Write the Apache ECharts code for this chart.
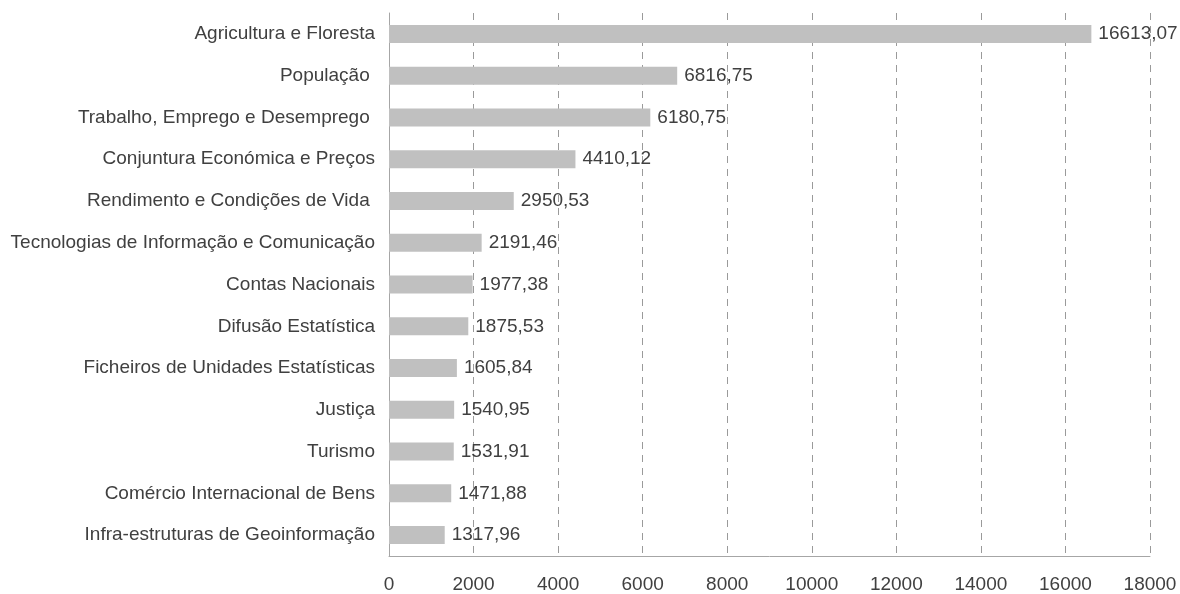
<html>
<head>
<meta charset="utf-8">
<script type="text/javascript" src="https://cdn.jsdelivr.net/npm/echarts@6/dist/echarts.min.js"></script>
<style type="text/css">
	body { margin: 0; background: #fff; }
</style>
</head>
<body>
<div id="chart" style="width: 1180px; height: 594px;"></div>
<script type="text/javascript">

// categories top to bottom, as in the picture
var categories = [
	'Agricultura e Floresta',
	'População ',
	'Trabalho, Emprego e Desemprego ',
	'Conjuntura Económica e Preços',
	'Rendimento e Condições de Vida ',
	'Tecnologias de Informação e Comunicação',
	'Contas Nacionais',
	'Difusão Estatística',
	'Ficheiros de Unidades Estatísticas',
	'Justiça',
	'Turismo',
	'Comércio Internacional de Bens',
	'Infra-estruturas de Geoinformação'
];
var values = [16613.07, 6816.75, 6180.75, 4410.12, 2950.53, 2191.46, 1977.38,
	1875.53, 1605.84, 1540.95, 1531.91, 1471.88, 1317.96];

var axisMin = 0, axisMax = 18000, axisStep = 2000;

var font = 'Liberation Sans, Arial, sans-serif';
var textColor = '#404040';
var fontSize = 19;

function fmt(v) {
	return v.toFixed(2).replace('.', ',');
}

var option = {
	animation: false,
	grid: { left: 389, right: 30, top: 13, bottom: 35 },
	xAxis: {
		type: 'value',
		min: axisMin,
		max: axisMax,
		interval: axisStep,
		axisLine: { show: true, lineStyle: { color: '#a6a6a6', width: 1 } },
		axisTick: { show: false },
		axisLabel: {
			color: textColor, fontSize: fontSize, fontFamily: font, margin: 19,
			formatter: function (v) { return String(v); }
		},
		splitLine: { show: true, lineStyle: { color: '#9a9a9a', type: [7, 6], width: 1 } }
	},
	yAxis: {
		type: 'category',
		inverse: true,
		data: categories,
		axisLine: { show: true, lineStyle: { color: '#a6a6a6', width: 1 } },
		axisTick: { show: false },
		axisLabel: { color: textColor, fontSize: fontSize, fontFamily: font, margin: 14 }
	},
	series: [
		{
			type: 'bar',
			data: values,
			barWidth: 18,
			itemStyle: { color: '#c0c0c0' },
			label: {
				show: true,
				position: 'right',
				distance: 7,
				color: textColor,
				fontSize: fontSize,
				fontFamily: font,
				formatter: function (p) { return fmt(p.value); }
			}
		}
	]
};

var myChart = echarts.init(document.getElementById('chart'));
myChart.setOption(option);
</script>
</body>
</html>
